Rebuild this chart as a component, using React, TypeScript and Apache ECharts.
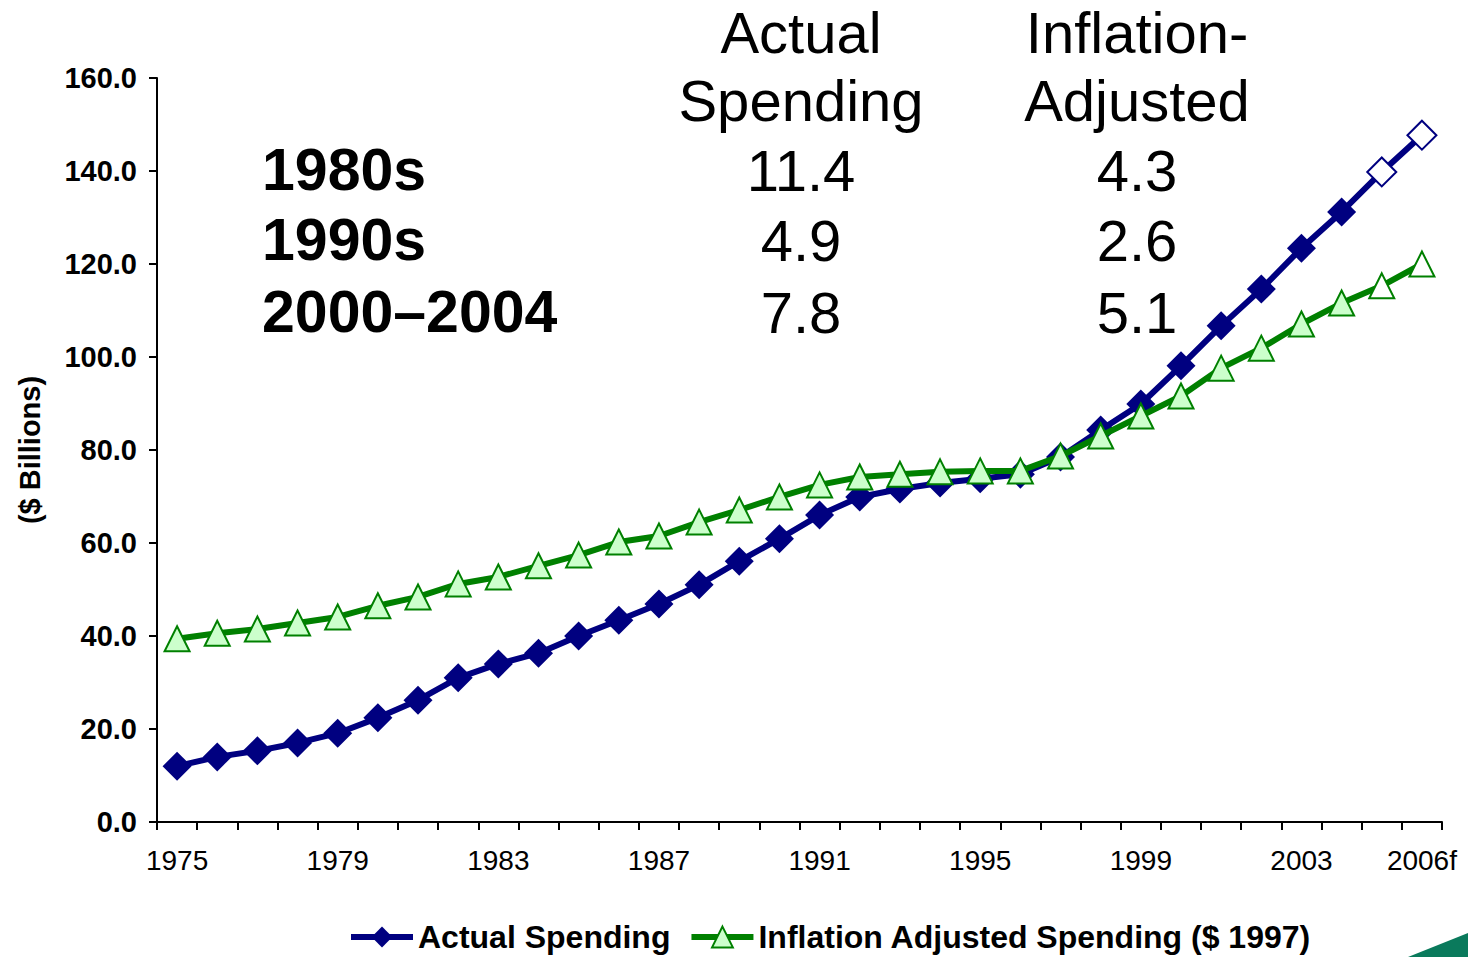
import React, { useEffect, useRef } from "react";
import * as echarts from "echarts";

const years = [
  "1975", "1976", "1977", "1978", "1979", "1980", "1981", "1982", "1983", "1984",
  "1985", "1986", "1987", "1988", "1989", "1990", "1991", "1992", "1993", "1994",
  "1995", "1996", "1997", "1998", "1999", "2000", "2001", "2002", "2003", "2004",
  "2005", "2006f",
];

const actualSpending = [
  12.0, 14.0, 15.3, 17.0, 19.1, 22.4, 26.2, 31.0, 34.0, 36.3,
  40.0, 43.4, 46.9, 51.0, 56.1, 60.9, 66.0, 69.9, 71.6, 72.9,
  73.8, 74.8, 78.5, 84.3, 89.9, 98.1, 106.7, 114.6, 123.4, 131.2,
  139.8, 147.7,
];

const adjustedSpending = [
  39.4, 40.6, 41.5, 42.8, 44.1, 46.5, 48.4, 51.2, 52.7, 55.1,
  57.4, 60.2, 61.5, 64.5, 67.1, 69.9, 72.5, 74.2, 74.8, 75.3,
  75.5, 75.5, 78.7, 83.0, 87.3, 91.6, 97.6, 101.9, 107.1, 111.6,
  115.3, 120.0,
];

// first category drawn with hollow (forecast) markers
const forecastFrom = "2005";

const periods = ["1980s", "1990s", "2000\u20132004"];
const actualGrowth = [11.4, 4.9, 7.8];
const adjustedGrowth = [4.3, 2.6, 5.1];
const headerActual = ["Actual", "Spending"];
const headerAdjusted = ["Inflation-", "Adjusted"];

const FONT = '"Liberation Sans", Arial, sans-serif';
const NAVY = "#000080";
const GREEN = "#008000";
const LIGHTGREEN = "#ccffcc";

export default function App() {
  const ref = useRef<HTMLDivElement>(null);

  useEffect(() => {
    if (!ref.current) return;
    const chart = echarts.init(ref.current, undefined, { renderer: "svg" });
    const fIdx = years.indexOf(forecastFrom);

    const actualData = actualSpending.map((v, i) =>
      i >= fIdx
        ? { value: v, itemStyle: { color: "#ffffff", borderColor: NAVY, borderWidth: 2 } }
        : v
    );
    const adjustedData = adjustedSpending.map((v, i) =>
      i >= fIdx
        ? { value: v, itemStyle: { color: "#ffffff", borderColor: GREEN, borderWidth: 2 } }
        : v
    );

    const rowY = [170, 240, 312];
    const headerY = [32, 100];
    const colX = [262, 801, 1137];

    const txt = (text: string, x: number, y: number, size: number, bold: boolean, align: string) => ({
      type: "text",
      x,
      y,
      style: {
        text,
        fill: "#000",
        font: `${bold ? "bold " : ""}${size}px ${FONT}`,
        textAlign: align,
        textVerticalAlign: "middle",
      },
    });

    const graphics: any[] = [];
    headerActual.forEach((t, i) => graphics.push(txt(t, colX[1], headerY[i], 58, false, "center")));
    headerAdjusted.forEach((t, i) => graphics.push(txt(t, colX[2], headerY[i], 58, false, "center")));
    periods.forEach((p, i) => {
      graphics.push(txt(p, colX[0], rowY[i], 59, true, "left"));
      graphics.push(txt(actualGrowth[i].toFixed(1), colX[1], rowY[i], 58, false, "center"));
      graphics.push(txt(adjustedGrowth[i].toFixed(1), colX[2], rowY[i], 58, false, "center"));
    });
    graphics.push({
      type: "text",
      x: 30,
      y: 450,
      rotation: Math.PI / 2,
      style: {
        text: "($ Billions)",
        fill: "#000",
        font: `bold 29px ${FONT}`,
        textAlign: "center",
        textVerticalAlign: "middle",
      },
    });
    graphics.push({
      type: "polygon",
      shape: { points: [[1408, 957], [1468, 933], [1468, 957]] },
      style: { fill: "#0a7a5c" },
    });

    chart.setOption({
      animation: false,
      backgroundColor: "#ffffff",
      grid: { left: 157, right: 26, top: 78, bottom: 135, containLabel: false },
      legend: {
        left: 348,
        top: 920,
        padding: 0,
        itemWidth: 62,
        itemHeight: 26,
        itemGap: 18,
        lineStyle: { width: 6 },
        textStyle: { fontFamily: FONT, fontSize: 32, fontWeight: "bold", color: "#000", lineHeight: 34 },
        data: ["Actual Spending", "Inflation Adjusted Spending ($ 1997)"],
      },
      xAxis: {
        type: "category",
        data: years,
        boundaryGap: true,
        axisLine: { lineStyle: { color: "#000", width: 2 } },
        axisTick: { show: true, interval: 0, length: 8, lineStyle: { color: "#000", width: 2 } },
        axisLabel: {
          interval: (idx: number) => idx % 4 === 0 || idx === years.length - 1,
          fontFamily: FONT,
          fontSize: 28,
          color: "#000",
          margin: 24,
        },
        splitLine: { show: false },
      },
      yAxis: {
        type: "value",
        min: 0,
        max: 160,
        interval: 20,
        axisLine: { show: true, lineStyle: { color: "#000", width: 2 } },
        axisTick: { show: true, length: 8, lineStyle: { color: "#000", width: 2 } },
        axisLabel: {
          formatter: (v: number) => v.toFixed(1),
          fontFamily: FONT,
          fontSize: 29,
          fontWeight: "bold",
          color: "#000",
          margin: 20,
        },
        splitLine: { show: false },
      },
      series: [
        {
          name: "Actual Spending",
          type: "line",
          data: actualData,
          symbol: "diamond",
          symbolSize: 29,
          showAllSymbol: true,
          color: NAVY,
          itemStyle: { color: NAVY },
          lineStyle: { color: NAVY, width: 6 },
          z: 2,
        },
        {
          name: "Inflation Adjusted Spending ($ 1997)",
          type: "line",
          data: adjustedData,
          symbol: "triangle",
          symbolSize: 25,
          showAllSymbol: true,
          color: GREEN,
          itemStyle: { color: LIGHTGREEN, borderColor: GREEN, borderWidth: 2 },
          lineStyle: { color: GREEN, width: 6 },
          z: 3,
        },
      ],
      graphic: graphics,
    });

    return () => chart.dispose();
  }, []);

  return (
    <div
      ref={ref}
      style={{ position: "fixed", left: 0, top: 0, width: 1468, height: 957 }}
    />
  );
}
